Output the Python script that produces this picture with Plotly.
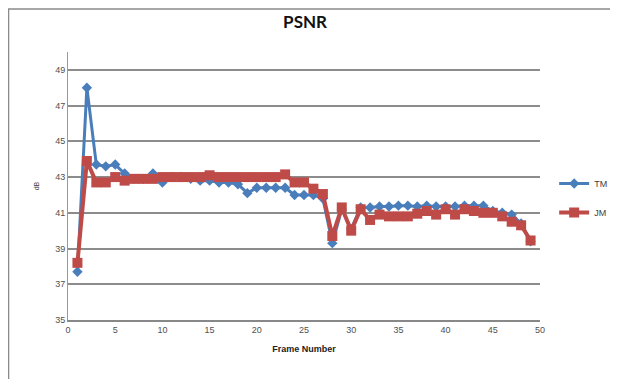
import plotly.graph_objects as go

frames = list(range(1, 50))
tm = [37.7, 48.0, 43.7, 43.6, 43.7, 43.2, 42.9, 42.9, 43.2, 42.7,
      43.0, 43.0, 42.9, 42.8, 42.8, 42.7, 42.7, 42.6, 42.1, 42.4,
      42.4, 42.4, 42.4, 42.0, 42.0, 42.0, 41.8, 39.3, 41.2, 40.1,
      41.3, 41.3, 41.35, 41.35, 41.4, 41.4, 41.35, 41.4, 41.35, 41.35,
      41.35, 41.4, 41.4, 41.4, 41.1, 41.0, 40.9, 40.4, 39.4]
jm = [38.2, 43.9, 42.7, 42.7, 43.0, 42.8, 42.9, 42.9, 42.9, 43.0,
      43.0, 43.0, 43.0, 43.0, 43.1, 43.0, 43.0, 43.0, 43.0, 43.0,
      43.0, 43.0, 43.15, 42.7, 42.7, 42.35, 42.05, 39.7, 41.3, 40.0,
      41.2, 40.6, 40.9, 40.8, 40.8, 40.8, 40.95, 41.1, 40.9, 41.2,
      40.9, 41.2, 41.1, 41.0, 41.0, 40.8, 40.5, 40.3, 39.45]

fig = go.Figure()
fig.add_trace(go.Scatter(x=frames, y=tm, name="TM", mode="lines+markers", legendgroup="tm",
                         line=dict(color="#4A7EBB", width=3),
                         marker=dict(symbol="diamond", size=8, color="#4A7EBB")))
fig.add_trace(go.Scatter(x=frames, y=jm, name="JM", mode="lines+markers", legendgroup="jm",
                         line=dict(color="#BE4B48", width=4),
                         marker=dict(symbol="square", size=10, color="#BE4B48")))

fig.update_layout(
    width=610, height=371,
    margin=dict(l=60, r=78, t=44, b=59, autoexpand=False),
    paper_bgcolor="white", plot_bgcolor="white",
    font=dict(family="Liberation Sans, Arial", size=9, color="#505050"),
    title=dict(text="<b>PSNR</b>", x=0.487, xanchor="center", y=0.962, yanchor="middle",
               font=dict(family="Lato, Open Sans", size=17, color="#111111")),
    showlegend=True,
    legend=dict(x=1.03, y=0.455, xanchor="left", yanchor="middle", itemwidth=30,
                font=dict(size=9, color="#404040"), tracegroupgap=10,
                bgcolor="rgba(0,0,0,0)"),
    xaxis=dict(range=[0, 50], tick0=0, dtick=5, showgrid=False, zeroline=False,
               showline=True, linecolor="#888888", linewidth=2, ticks="",
               ticklen=0, automargin=False,
               title=dict(text="<b>Frame Number</b>", font=dict(size=9, color="#222222"), standoff=12)),
    yaxis=dict(range=[35, 50], tick0=35, dtick=2, showgrid=True, gridcolor="#8c8c8c",
               gridwidth=2, zeroline=False, showline=True, linecolor="#999999", linewidth=1,
               ticks="", automargin=False,
               title=dict(text="dB", font=dict(size=7, color="#444444"), standoff=14)),
    shapes=[dict(type="rect", xref="paper", yref="paper",
                 x0=-0.126, x1=1.1525, y0=-0.3, y1=1.16,
                 line=dict(color="#8a8a8a", width=1.5), fillcolor="rgba(0,0,0,0)",
                 layer="below")],
)

fig.write_html("out.html")
